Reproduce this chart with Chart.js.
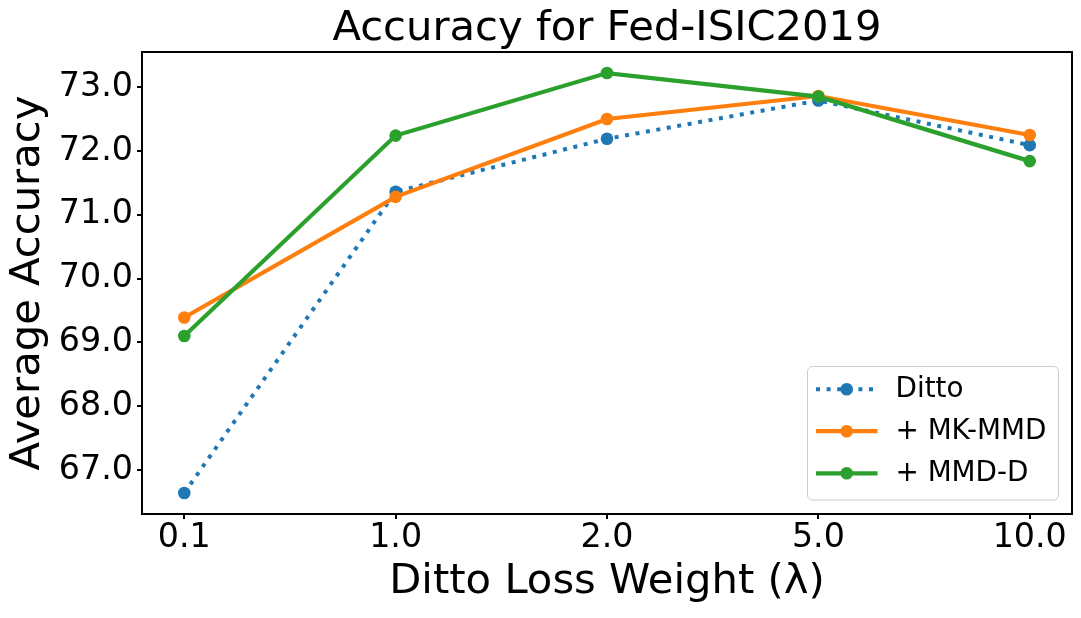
<!DOCTYPE html>
<html>
<head>
<meta charset="utf-8">
<script src="https://cdn.jsdelivr.net/npm/chart.js@4"></script>
<style>
  html, body { margin: 0; padding: 0; background: #ffffff; }
  #wrap { width: 1081px; height: 618px; }
</style>
</head>
<body>
<div id="wrap"><canvas id="c" width="1081" height="618"></canvas></div>
<script>
// ---- data ----
const lambdas = ['0.1', '1.0', '2.0', '5.0', '10.0'];
const ditto   = [66.64, 71.36, 72.19, 72.79, 72.09];
const mkmmd   = [69.39, 71.28, 72.50, 72.86, 72.25];
const mmdd    = [69.10, 72.24, 73.22, 72.85, 71.84];
const seriesNames = ['Ditto', '+ MK-MMD', '+ MMD-D'];
const yTicks = [67, 68, 69, 70, 71, 72, 73];

const FONT = "'DejaVu Sans', sans-serif";
const C_BLUE = '#1f77b4', C_ORANGE = '#ff7f0e', C_GREEN = '#2ca02c';

function pts(arr) { return arr.map((v, i) => ({ x: i, y: v })); }

const spinesPlugin = {
  id: 'spines',
  afterDraw(chart) {
    const { ctx, chartArea: a } = chart;
    ctx.save();
    ctx.strokeStyle = '#000';
    ctx.lineWidth = 2;
    ctx.strokeRect(a.left, a.top, a.right - a.left, a.bottom - a.top);
    ctx.restore();
  }
};

const legendPlugin = {
  id: 'mplLegend',
  afterDraw(chart) {
    const { ctx } = chart;
    const box = { x: 807.5, y: 366.5, w: 251, h: 133.5, r: 5 };
    ctx.save();
    ctx.beginPath();
    ctx.roundRect(box.x, box.y, box.w, box.h, box.r);
    ctx.fillStyle = 'rgba(255,255,255,0.8)';
    ctx.fill();
    ctx.strokeStyle = '#cccccc';
    ctx.lineWidth = 1;
    ctx.stroke();
    const rows = [389.3, 431.2, 473.3];
    chart.data.datasets.forEach((ds, i) => {
      const y = rows[i];
      ctx.beginPath();
      ctx.setLineDash(ds.borderDash || []);
      ctx.lineDashOffset = 0;
      ctx.lineCap = 'butt';
      ctx.strokeStyle = ds.borderColor;
      ctx.lineWidth = ds.borderWidth;
      ctx.moveTo(816, y);
      ctx.lineTo(877.5, y);
      ctx.stroke();
      ctx.setLineDash([]);
      ctx.beginPath();
      ctx.arc(846.7, y, ds.pointRadius, 0, Math.PI * 2);
      ctx.fillStyle = ds.pointBackgroundColor;
      ctx.fill();
      ctx.fillStyle = '#000';
      ctx.font = '27.8px ' + FONT;
      ctx.textBaseline = 'middle';
      ctx.textAlign = 'left';
      ctx.fillText(ds.label, 895.5, y + 0.5);
    });
    ctx.restore();
  }
};

new Chart(document.getElementById('c'), {
  type: 'line',
  data: {
    datasets: [
      { label: seriesNames[0], data: pts(ditto), borderColor: C_BLUE, backgroundColor: C_BLUE,
        pointBackgroundColor: C_BLUE, borderWidth: 4, borderDash: [4, 6.6], borderCapStyle: 'butt',
        pointRadius: 6.3, pointBorderWidth: 0, pointHoverRadius: 6.3, order: 3, tension: 0 },
      { label: seriesNames[1], data: pts(mkmmd), borderColor: C_ORANGE, backgroundColor: C_ORANGE,
        pointBackgroundColor: C_ORANGE, borderWidth: 4.2, pointRadius: 6.3, pointBorderWidth: 0,
        pointHoverRadius: 6.3, order: 2, tension: 0 },
      { label: seriesNames[2], data: pts(mmdd), borderColor: C_GREEN, backgroundColor: C_GREEN,
        pointBackgroundColor: C_GREEN, borderWidth: 4.2, pointRadius: 6.3, pointBorderWidth: 0,
        pointHoverRadius: 6.3, order: 1, tension: 0 }
    ]
  },
  options: {
    responsive: false,
    devicePixelRatio: 1,
    animation: false,
    layout: { padding: { left: 0, right: 9, top: 0, bottom: 0 } },
    plugins: {
      legend: { display: false },
      tooltip: { enabled: false },
      title: { display: false }
    },
    scales: {
      top: {
        type: 'linear',
        position: 'top',
        min: -0.2, max: 4.2,
        afterFit(scale) { scale.height = 52; },
        grid: { display: false },
        border: { display: false },
        ticks: { display: false },
        title: {
          display: true, text: 'Accuracy for Fed-ISIC2019', color: '#000',
          font: { family: FONT, size: 41.7, weight: 'normal', lineHeight: 1.2 },
          padding: { top: 3.9, bottom: 0 }
        }
      },
      x: {
        type: 'linear',
        position: 'bottom',
        min: -0.2, max: 4.2,
        afterFit(scale) { scale.height = 104; },
        grid: { drawOnChartArea: false, drawTicks: true, tickLength: 5, color: '#000', lineWidth: 2 },
        border: { display: false },
        ticks: {
          stepSize: 1, includeBounds: false, autoSkip: false, maxRotation: 0, padding: 3,
          color: '#000', font: { family: FONT, size: 33.3, lineHeight: 1.0 },
          callback: (v) => (lambdas[v] !== undefined ? lambdas[v] : '')
        },
        title: {
          display: true, text: 'Ditto Loss Weight (λ)', color: '#000',
          font: { family: FONT, size: 41.7, lineHeight: 1.2 },
          padding: { top: 0, bottom: 10.7 }
        }
      },
      y: {
        type: 'linear',
        min: 66.31, max: 73.55,
        afterFit(scale) { scale.width = 142; },
        afterBuildTicks(scale) { scale.ticks = yTicks.map(v => ({ value: v })); },
        grid: { drawOnChartArea: false, drawTicks: true, tickLength: 5, color: '#000', lineWidth: 2 },
        border: { display: false },
        ticks: {
          padding: 4, color: '#000', font: { family: FONT, size: 33.3 },
          callback: (v) => Number(v).toFixed(1)
        },
        title: {
          display: true, text: 'Average Accuracy', color: '#000',
          font: { family: FONT, size: 41.7, lineHeight: 1.2 },
          padding: { top: 3.6, bottom: 0 }
        }
      }
    }
  },
  plugins: [spinesPlugin, legendPlugin]
});
</script>
</body>
</html>
